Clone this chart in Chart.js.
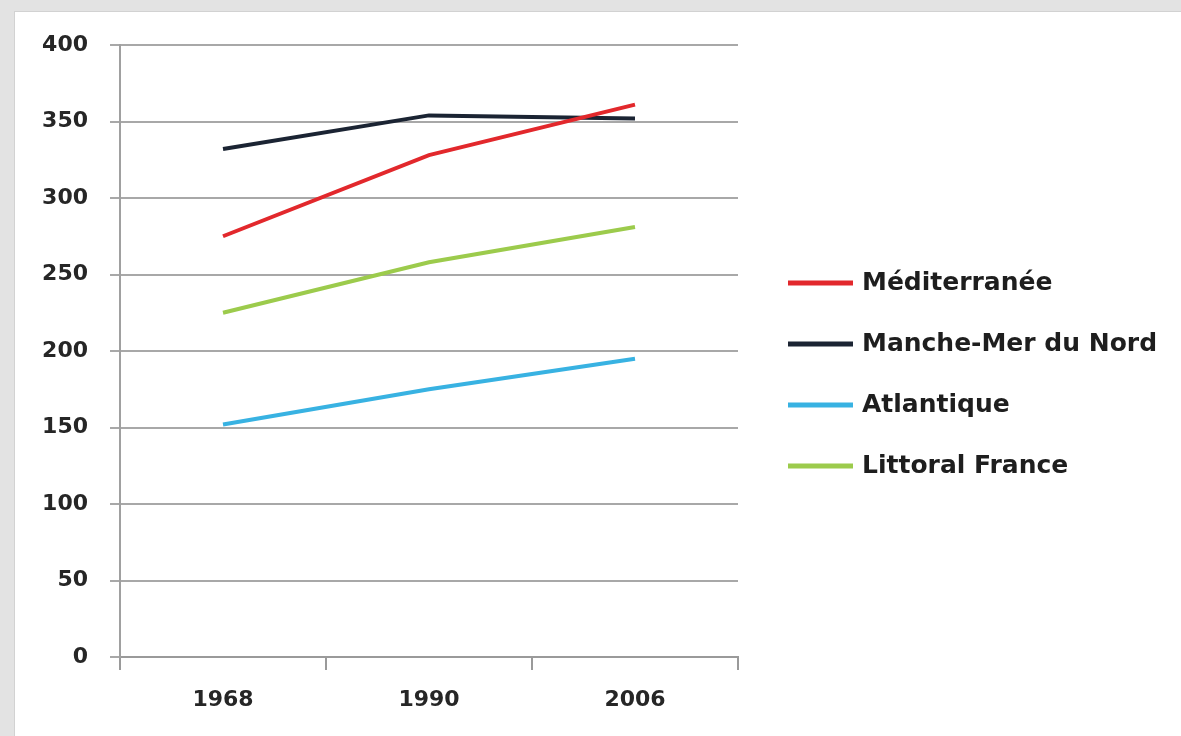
<!DOCTYPE html>
<html>
<head>
<meta charset="utf-8">
<title>Littoral</title>
<script src="https://cdn.jsdelivr.net/npm/chart.js@4"></script>
<style>
  body {
    margin: 0;
    width: 1181px;
    height: 736px;
    overflow: hidden;
    background: #e3e3e3;
  }
  .panel {
    position: absolute;
    left: 14px;
    top: 11px;
    right: 0;
    bottom: 0;
    background: #fff;
    border-left: 1px solid #d2d2d2;
    border-top: 1px solid #d2d2d2;
  }
  #chart {
    position: absolute;
    left: 0;
    top: 0;
  }
</style>
</head>
<body>
<div class="panel"></div>
<canvas id="chart" width="1181" height="736"></canvas>
<script>
const years = ["1968", "1990", "2006"];
const mediterranee = [275, 328, 361];
const mancheMerDuNord = [332, 354, 352];
const atlantique = [152, 175, 195];
const littoralFrance = [225, 258, 281];
const yTicks = [0, 50, 100, 150, 200, 250, 300, 350, 400];

const tickFont = { family: "DejaVu Sans", size: 22, weight: "bold" };

// legend is drawn by hand to get the Excel-like spacing on the right
const sideLegend = {
  id: "sideLegend",
  afterDraw(chart) {
    const ctx = chart.ctx;
    ctx.save();
    ctx.font = "bold 25px 'DejaVu Sans'";
    ctx.textBaseline = "middle";
    chart.data.datasets.forEach((ds, i) => {
      let y = 283 + i * 61;
      ctx.strokeStyle = ds.borderColor;
      ctx.lineWidth = 5;
      ctx.beginPath();
      ctx.moveTo(788, y);
      ctx.lineTo(853, y);
      ctx.stroke();
      ctx.fillStyle = "#1e1e1e";
      ctx.fillText(ds.label, 862, y);
    });
    ctx.restore();
  },
};

const config = {
  type: "line",
  data: {
    labels: years,
    datasets: [
      { label: "Méditerranée", data: mediterranee, borderColor: "#e2282c" },
      { label: "Manche-Mer du Nord", data: mancheMerDuNord, borderColor: "#1b2433" },
      { label: "Atlantique", data: atlantique, borderColor: "#38b2e2" },
      { label: "Littoral France", data: littoralFrance, borderColor: "#9ccb4c" },
    ],
  },
  options: {
    responsive: false,
    animation: false,
    devicePixelRatio: 1,
    elements: {
      line: { borderWidth: 4, tension: 0, fill: false },
      point: { radius: 0, hoverRadius: 0 },
    },
    layout: {
      padding: { top: 45, right: 443, bottom: 0, left: 0 },
    },
    plugins: {
      legend: { display: false },
      tooltip: { enabled: false },
    },
    scales: {
      x: {
        offset: true,
        grid: {
          offset: true,
          drawOnChartArea: false,
          drawTicks: true,
          tickLength: 13,
          color: "#9a9a9a",
          lineWidth: 2,
        },
        border: { color: "#9a9a9a", width: 2 },
        ticks: { color: "#262626", font: tickFont, padding: 17 },
        afterFit: (scale) => {
          scale.height = 79;
        },
      },
      y: {
        min: 0,
        max: 400,
        afterBuildTicks: (scale) => {
          scale.ticks = yTicks.map((v) => ({ value: v }));
        },
        grid: {
          color: "#a8a8a8",
          lineWidth: 2,
          tickLength: 10,
        },
        border: { color: "#a0a0a0", width: 2 },
        ticks: { color: "#262626", font: tickFont, padding: 22 },
        afterFit: (scale) => {
          scale.width = 120;
        },
      },
    },
  },
  plugins: [sideLegend],
};

new Chart(document.getElementById("chart"), config);
</script>
</body>
</html>
